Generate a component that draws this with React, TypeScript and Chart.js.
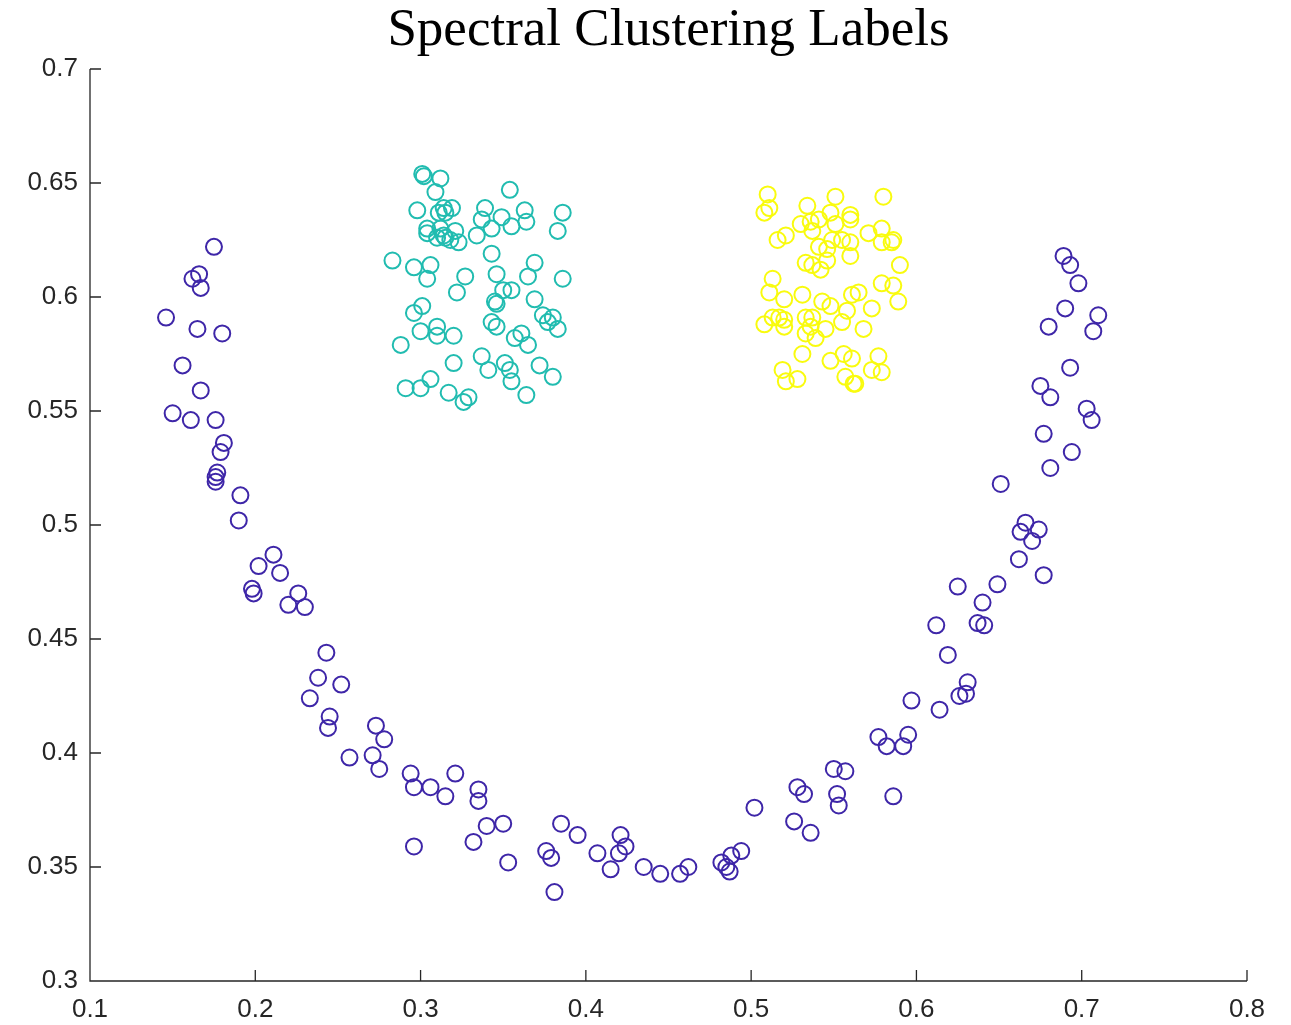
import React, { useEffect, useRef } from "react";
import { Chart, registerables } from "chart.js";

Chart.register(...registerables);

const TITLE = "Spectral Clustering Labels";

const X_TICKS = [0.1, 0.2, 0.3, 0.4, 0.5, 0.6, 0.7, 0.8];
const Y_TICKS = [0.3, 0.35, 0.4, 0.45, 0.5, 0.55, 0.6, 0.65, 0.7];

// Cluster 1: the crescent (moon) shape
const moonX = [
  0.175, 0.162, 0.166, 0.167, 0.146, 0.165, 0.18, 0.156, 0.167, 0.15, 0.161, 0.176, 0.181, 0.179, 0.177, 0.176, 0.176, 0.191, 0.19,
  0.211, 0.202, 0.215, 0.198, 0.199, 0.226, 0.22, 0.23, 0.243, 0.238, 0.252, 0.233, 0.245, 0.244, 0.273, 0.278, 0.257, 0.271, 0.275,
  0.294, 0.296, 0.306, 0.315, 0.321, 0.335, 0.335, 0.34, 0.35, 0.353, 0.296, 0.332,
  0.376, 0.379, 0.385, 0.395, 0.381, 0.407, 0.415, 0.421, 0.424, 0.42, 0.435, 0.445, 0.457, 0.462,
  0.482, 0.488, 0.494, 0.485, 0.487, 0.502, 0.528, 0.532, 0.526, 0.536,
  0.55, 0.557, 0.552, 0.553, 0.586, 0.577, 0.582, 0.595, 0.592, 0.597, 0.614, 0.631, 0.626, 0.63, 0.619, 0.612, 0.637, 0.641, 0.625, 0.649, 0.64,
  0.651, 0.662, 0.677, 0.666, 0.663, 0.674, 0.67, 0.677, 0.694, 0.681, 0.675, 0.681, 0.703, 0.706, 0.693, 0.68, 0.707, 0.69, 0.71, 0.689, 0.693, 0.698,
];
const moonY = [
  0.622, 0.608, 0.61, 0.604, 0.591, 0.586, 0.584, 0.57, 0.559, 0.549, 0.546, 0.546, 0.536, 0.532, 0.523, 0.521, 0.519, 0.513, 0.502,
  0.487, 0.482, 0.479, 0.472, 0.47, 0.47, 0.465, 0.464, 0.444, 0.433, 0.43, 0.424, 0.416, 0.411, 0.412, 0.406, 0.398, 0.399, 0.393,
  0.391, 0.385, 0.385, 0.381, 0.391, 0.384, 0.379, 0.368, 0.369, 0.352, 0.359, 0.361,
  0.357, 0.354, 0.369, 0.364, 0.339, 0.356, 0.349, 0.364, 0.359, 0.356, 0.35, 0.347, 0.347, 0.35,
  0.352, 0.355, 0.357, 0.35, 0.348, 0.376, 0.385, 0.382, 0.37, 0.365,
  0.393, 0.392, 0.382, 0.377, 0.381, 0.407, 0.403, 0.408, 0.403, 0.423, 0.419, 0.431, 0.425, 0.426, 0.443, 0.456, 0.457, 0.456, 0.473, 0.474, 0.466,
  0.518, 0.485, 0.478, 0.501, 0.497, 0.498, 0.493, 0.54, 0.532, 0.525, 0.561, 0.556, 0.551, 0.546, 0.569, 0.587, 0.585, 0.595, 0.592, 0.618, 0.614, 0.606,
];

// Cluster 2: left block
const leftBlockX = [
  0.301, 0.302, 0.312, 0.309, 0.354, 0.298, 0.314, 0.319, 0.311, 0.315, 0.339, 0.337, 0.349, 0.363, 0.364, 0.355, 0.343, 0.334, 0.386, 0.383,
  0.304, 0.304, 0.312, 0.321, 0.31, 0.315, 0.318, 0.323, 0.314,
  0.283, 0.296, 0.306, 0.304, 0.343, 0.327, 0.322, 0.346, 0.369, 0.365, 0.386, 0.35, 0.355, 0.345, 0.346, 0.369, 0.374, 0.38, 0.377, 0.383,
  0.301, 0.296, 0.3, 0.31, 0.31, 0.32, 0.288, 0.343, 0.346, 0.361, 0.357, 0.365,
  0.32, 0.337, 0.341, 0.351, 0.354, 0.355, 0.372, 0.38, 0.306, 0.3, 0.291, 0.317, 0.329, 0.326, 0.364,
];
const leftBlockY = [
  0.654, 0.653, 0.652, 0.646, 0.647, 0.638, 0.639, 0.639, 0.637, 0.637, 0.639, 0.634, 0.635, 0.638, 0.633, 0.631, 0.63, 0.627, 0.637, 0.629,
  0.63, 0.628, 0.63, 0.629, 0.626, 0.626, 0.625, 0.624, 0.627,
  0.616, 0.613, 0.614, 0.608, 0.619, 0.609, 0.602, 0.61, 0.615, 0.609, 0.608, 0.603, 0.603, 0.598, 0.597, 0.599, 0.592, 0.591, 0.589, 0.586,
  0.596, 0.593, 0.585, 0.587, 0.583, 0.583, 0.579, 0.589, 0.587, 0.584, 0.582, 0.579,
  0.571, 0.574, 0.568, 0.571, 0.568, 0.563, 0.57, 0.565, 0.564, 0.56, 0.56, 0.558, 0.556, 0.554, 0.557,
];

// Cluster 3: right block
const rightBlockX = [
  0.51, 0.511, 0.508, 0.551, 0.58, 0.534, 0.53, 0.536, 0.541, 0.548, 0.537, 0.551, 0.56, 0.56, 0.521, 0.516, 0.571, 0.579, 0.579, 0.585,
  0.586, 0.549, 0.555, 0.56, 0.541, 0.546, 0.56, 0.59, 0.533, 0.537, 0.542, 0.546,
  0.513, 0.511, 0.52, 0.531, 0.579, 0.586, 0.589, 0.543, 0.548, 0.561, 0.565, 0.558, 0.573, 0.555, 0.513, 0.508, 0.517, 0.52, 0.52, 0.533,
  0.537, 0.536, 0.545, 0.533, 0.539, 0.568,
  0.531, 0.548, 0.556, 0.561, 0.577, 0.573, 0.579, 0.519, 0.521, 0.528, 0.557, 0.563, 0.562,
];
const rightBlockY = [
  0.645, 0.639, 0.637, 0.644, 0.644, 0.64, 0.632, 0.633, 0.634, 0.637, 0.629, 0.632, 0.636, 0.634, 0.627, 0.625, 0.628, 0.63, 0.624, 0.624,
  0.625, 0.625, 0.625, 0.624, 0.622, 0.621, 0.618, 0.614, 0.615, 0.614, 0.612, 0.616,
  0.608, 0.602, 0.599, 0.601, 0.606, 0.605, 0.598, 0.598, 0.596, 0.601, 0.602, 0.594, 0.595, 0.589, 0.591, 0.588, 0.591, 0.59, 0.587, 0.591,
  0.591, 0.587, 0.586, 0.584, 0.582, 0.586,
  0.575, 0.572, 0.575, 0.573, 0.574, 0.568, 0.567, 0.568, 0.563, 0.564, 0.565, 0.562, 0.562,
];

const CLUSTER_COLORS = ["#3E26A8", "#21BCB0", "#F9FB0E"];
const AXIS_COLOR = "#262626";
const TICK_LEN = 11;

const toPoints = (xs: number[], ys: number[]) => xs.map((x, i) => ({ x, y: ys[i] }));
const fmt = (v: number) => String(Number(v.toFixed(2)));

// Draws the title, the left/bottom axis lines and inward-pointing tick marks
const axesPlugin = {
  id: "matlabAxes",
  afterDatasetsDraw(chart: any) {
    const { ctx, chartArea, scales } = chart;
    const { left, right, top, bottom } = chartArea;
    ctx.save();
    ctx.strokeStyle = AXIS_COLOR;
    ctx.lineWidth = 1.3;
    ctx.beginPath();
    ctx.moveTo(left, top);
    ctx.lineTo(left, bottom);
    ctx.lineTo(right, bottom);
    for (const v of X_TICKS) {
      const px = scales.x.getPixelForValue(v);
      ctx.moveTo(px, bottom);
      ctx.lineTo(px, bottom - TICK_LEN);
    }
    for (const v of Y_TICKS) {
      const py = scales.y.getPixelForValue(v);
      ctx.moveTo(left, py);
      ctx.lineTo(left + TICK_LEN, py);
    }
    ctx.stroke();

    ctx.fillStyle = "#000";
    ctx.font = "53px 'Liberation Serif'";
    ctx.textAlign = "center";
    ctx.textBaseline = "alphabetic";
    ctx.fillText(TITLE, (left + right) / 2, 45);
    ctx.restore();
  },
};

export default function App() {
  const canvasRef = useRef<HTMLCanvasElement | null>(null);

  useEffect(() => {
    const canvas = canvasRef.current;
    if (!canvas) return;
    const series = [
      toPoints(moonX, moonY),
      toPoints(leftBlockX, leftBlockY),
      toPoints(rightBlockX, rightBlockY),
    ];
    const tickFont = { family: "'Liberation Sans', Arial, sans-serif", size: 26 };
    const chart = new Chart(canvas, {
      type: "scatter",
      data: {
        datasets: series.map((data, i) => ({
          data,
          pointStyle: "circle",
          pointRadius: 8,
          pointHoverRadius: 8,
          pointBorderWidth: 2,
          pointBorderColor: CLUSTER_COLORS[i],
          pointBackgroundColor: "rgba(0,0,0,0)",
          borderColor: CLUSTER_COLORS[i],
          backgroundColor: "rgba(0,0,0,0)",
        })),
      },
      options: {
        responsive: false,
        animation: false,
        events: [],
        layout: { padding: { top: 69, right: 44, left: 0, bottom: 0 } },
        plugins: {
          legend: { display: false },
          title: { display: false },
          tooltip: { enabled: false },
        },
        scales: {
          x: {
            type: "linear",
            min: 0.1,
            max: 0.8,
            grid: { display: false, drawTicks: false },
            border: { display: false },
            afterBuildTicks: (scale: any) => {
              scale.ticks = X_TICKS.map((value) => ({ value }));
            },
            afterFit: (scale: any) => {
              scale.height = 44;
            },
            ticks: {
              autoSkip: false,
              maxRotation: 0,
              padding: 13,
              color: AXIS_COLOR,
              font: tickFont,
              callback: (v: any) => fmt(Number(v)),
            },
          },
          y: {
            type: "linear",
            min: 0.3,
            max: 0.7,
            grid: { display: false, drawTicks: false },
            border: { display: false },
            afterBuildTicks: (scale: any) => {
              scale.ticks = Y_TICKS.map((value) => ({ value }));
            },
            afterFit: (scale: any) => {
              scale.width = 90;
            },
            ticks: {
              autoSkip: false,
              padding: 12,
              color: AXIS_COLOR,
              font: tickFont,
              callback: (v: any) => fmt(Number(v)),
            },
          },
        },
      },
      plugins: [axesPlugin],
    });
    return () => chart.destroy();
  }, []);

  return (
    <div style={{ position: "absolute", left: 0, top: 0, width: 1291, height: 1025, background: "#fff" }}>
      <canvas ref={canvasRef} width={1291} height={1025} style={{ display: "block" }} />
    </div>
  );
}
